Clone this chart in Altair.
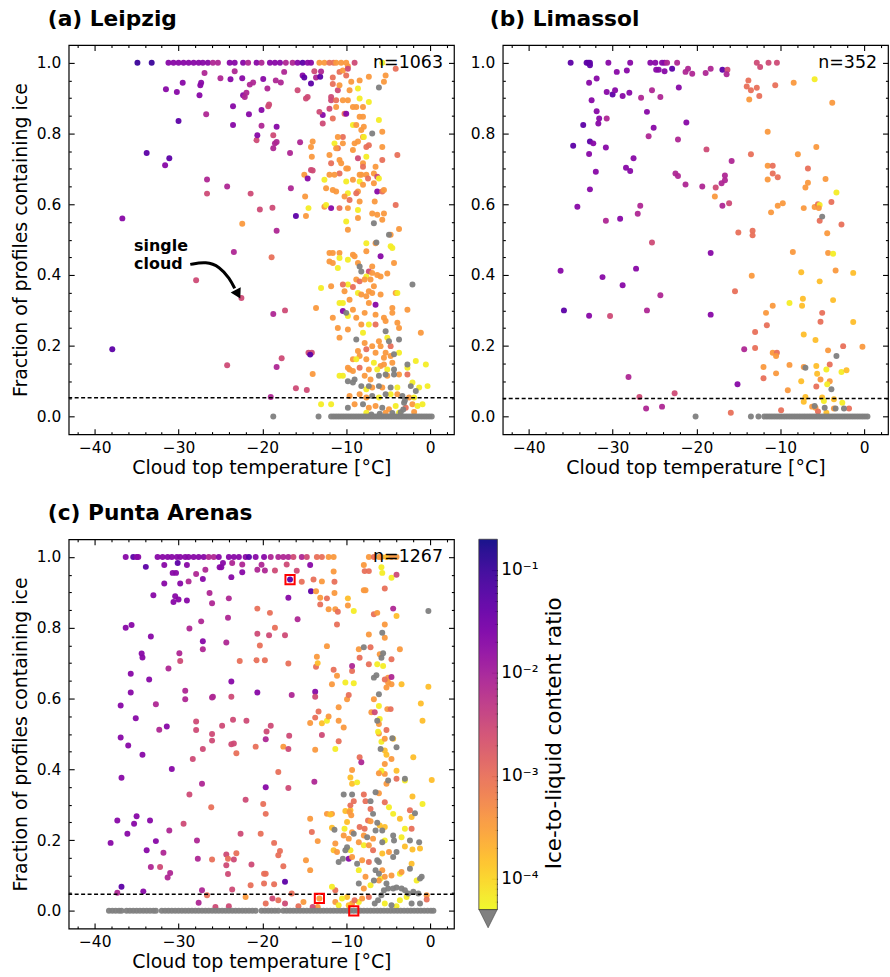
import altair as alt
import pandas as pd

FONT = "DejaVu Sans"
W, H = 387, 391
X_DOM = [-43.1, 2.85]
Y_DOM = [-0.05, 1.05]
X_MAJOR = [-40, -30, -20, -10, 0]
X_TICKS = [-42, -40, -38, -36, -34, -32, -30, -28, -26, -24, -22, -20, -18, -16, -14,
           -12, -10, -8, -6, -4, -2, 0, 2]
Y_MAJOR = [0.0, 0.2, 0.4, 0.6, 0.8, 1.0]
Y_TICKS = [0.0, 0.05, 0.1, 0.15, 0.2, 0.25, 0.3, 0.35, 0.4, 0.45, 0.5, 0.55, 0.6, 0.65,
           0.7, 0.75, 0.8, 0.85, 0.9, 0.95, 1.0]
CB_DOMAIN = [5e-5, 0.2]
CB_TICKS = [6e-5, 7e-5, 8e-5, 9e-5, 1e-4, 2e-4, 3e-4, 4e-4, 5e-4, 6e-4, 7e-4, 8e-4, 9e-4,
            1e-3, 2e-3, 3e-3, 4e-3, 5e-3, 6e-3, 7e-3, 8e-3, 9e-3, 1e-2, 2e-2, 3e-2, 4e-2,
            5e-2, 6e-2, 7e-2, 8e-2, 9e-2, 1e-1]

# colour class -> log10(ice-to-liquid content ratio); K = no ice (grey)
COLOR_CODE = {"Y": -4.2, "G": -3.8, "O": -3.45, "R": -3.0, "P": -2.55,
              "M": -2.1, "V": -1.7, "D": -1.3, "B": -1.0}

# ---------------- (a) Leipzig ----------------
leipzig_top_row = [(-34.9, "B"), (-33.2, "B"), (-31.2, "V"), (-30.6, "V"), (-30.0, "V"), (-29.4, "V"),
                   (-28.8, "V"), (-28.2, "V"), (-27.6, "V"), (-27.1, "V"), (-26.5, "V"), (-25.9, "M"),
                   (-25.3, "M"), (-23.9, "V"), (-23.3, "V"), (-22.3, "V"), (-21.7, "M"), (-20.7, "V"),
                   (-20.1, "M"), (-19.1, "V"), (-18.5, "V"), (-17.9, "V"), (-17.2, "M"), (-16.4, "M"),
                   (-15.8, "V"), (-15.2, "D"), (-14.6, "V"), (-14.2, "V"), (-13.2, "O"), (-12.6, "O"),
                   (-12.0, "R"), (-11.5, "R"), (-11.2, "O"), (-10.6, "O"), (-10.0, "O"), (-9.0, "P"),
                   (-5.7, "Y")]
leipzig_points = [
    (-31.5, 0.925, "V"), (-30.2, 0.917, "V"), (-29.5, 0.943, "V"), (-27.5, 0.908, "V"), (-27.4, 0.936, "V"),
    (-27.3, 0.943, "V"), (-26.9, 0.971, "M"), (-26.7, 0.854, "M"), (-25.0, 0.956, "M"), (-23.8, 0.953, "V"),
    (-23.5, 0.877, "V"), (-23.5, 0.824, "V"), (-23.3, 0.976, "M"), (-22.4, 0.956, "V"), (-22.3, 0.908, "V"),
    (-22.1, 0.903, "M"), (-21.9, 0.915, "M"), (-21.6, 0.854, "V"), (-21.5, 0.938, "M"), (-21.1, 0.944, "M"),
    (-20.7, 0.781, "P"), (-20.6, 0.795, "V"), (-20.1, 0.866, "V"), (-20.1, 0.822, "M"), (-19.9, 0.954, "V"),
    (-19.4, 0.927, "M"), (-19.3, 0.877, "P"), (-19.2, 0.882, "P"), (-18.7, 0.795, "P"), (-18.7, 0.758, "M"),
    (-18.5, 0.772, "M"), (-18.3, 0.819, "V"), (-18.3, 0.776, "M"), (-18.4, 0.950, "M"), (-17.8, 0.944, "M"),
    (-17.4, 0.974, "M"), (-16.7, 0.745, "M"), (-15.8, 0.922, "P"), (-15.5, 0.775, "M"), (-15.2, 0.964, "V"),
    (-15.0, 0.958, "D"), (-14.8, 0.899, "P"), (-14.6, 0.903, "P"), (-14.2, 0.941, "D"), (-13.8, 0.976, "P"),
    (-13.6, 0.958, "M"), (-13.1, 0.960, "D"), (-13.0, 0.975, "M"), (-14.0, 0.777, "O"), (-14.2, 0.762, "O"),
    (-14.1, 0.734, "O"), (-14.2, 0.697, "P"), (-14.0, 0.695, "P"), (-15.0, 0.683, "O"), (-14.6, 0.673, "V"),
    (-14.9, 0.622, "O"), (-14.5, 0.589, "Y"), (-14.8, 0.567, "O"), (-16.0, 0.567, "D"), (-16.6, 0.645, "M"),
    (-36.7, 0.56, "V"), (-37.9, 0.19, "D"), (-33.8, 0.745, "D"), (-31.6, 0.71, "V"), (-31.1, 0.73, "D"),
    (-30.0, 0.835, "D"), (-26.6, 0.67, "M"), (-26.6, 0.63, "P"), (-24.2, 0.65, "M"), (-24.2, 0.145, "P"),
    (-23.4, 0.465, "M"), (-22.4, 0.545, "O"), (-21.4, 0.63, "P"), (-20.3, 0.585, "P"), (-18.8, 0.59, "P"),
    (-18.3, 0.525, "M"), (-18.9, 0.45, "R"), (-27.9, 0.385, "P"), (-22.5, 0.335, "P"), (-18.7, 0.29, "M"),
    (-17.3, 0.30, "P"), (-18.3, 0.14, "M"), (-17.7, 0.165, "P"), (-16.0, 0.08, "P"), (-14.7, 0.075, "P"),
    (-19.0, 0.055, "M"), (-14.5, 0.18, "P"), (-14.1, 0.18, "P"), (-14.3, 0.175, "D"), (-14.0, 0.12, "O"),
    (-12.8, 0.852, "V"), (-13.2, 0.861, "P"), (-12.8, 0.828, "P"),
    (-11.6, 0.94, "R"), (-11.6, 0.958, "R"), (-11.0, 0.922, "P"), (-10.8, 0.936, "O"), (-10.8, 0.974, "R"),
    (-10.4, 0.978, "O"), (-9.8, 0.99, "O"), (-9.8, 0.983, "P"), (-10.0, 0.964, "R"), (-11.8, 0.903, "P"),
    (-11.8, 0.894, "P"), (-11.2, 0.894, "R"), (-11.2, 0.875, "O"), (-10.4, 0.894, "O"), (-9.8, 0.894, "O"),
    (-9.6, 0.922, "O"), (-9.4, 0.946, "O"), (-8.6, 0.927, "Y"), (-8.4, 0.950, "O"), (-8.4, 0.899, "Y"),
    (-9.2, 0.875, "O"), (-8.8, 0.875, "O"), (-8.0, 0.875, "O"), (-7.3, 0.889, "Y"), (-7.3, 0.96, "O"),
    (-8.4, 0.847, "O"), (-8.0, 0.847, "O"), (-9.2, 0.824, "Y"), (-8.8, 0.824, "O"), (-7.9, 0.819, "O"),
    (-8.2, 0.81, "O"), (-10.2, 0.856, "R"), (-10.0, 0.856, "V"), (-10.4, 0.79, "R"), (-12.0, 0.87, "P"),
    (-11.6, 0.842, "R"), (-11.0, 0.79, "O"), (-11.0, 0.758, "R"), (-10.4, 0.772, "O"), (-11.4, 0.772, "Y"),
    (-11.2, 0.758, "O"), (-12.0, 0.739, "O"), (-11.8, 0.716, "R"), (-10.6, 0.716, "O"), (-10.8, 0.725, "O"),
    (-9.8, 0.701, "O"), (-10.0, 0.701, "O"), (-10.8, 0.687, "R"), (-11.4, 0.683, "O"), (-12.0, 0.683, "O"),
    (-10.0, 0.664, "Y"), (-9.8, 0.631, "Y"), (-10.2, 0.622, "O"), (-9.6, 0.612, "R"), (-11.2, 0.636, "O"),
    (-11.6, 0.64, "O"), (-12.6, 0.669, "Y"), (-12.4, 0.645, "O"), (-12.6, 0.593, "O"), (-12.4, 0.598, "Y"),
    (-11.8, 0.589, "V"), (-10.8, 0.589, "R"), (-9.8, 0.589, "O"), (-10.0, 0.551, "Y"), (-9.8, 0.528, "O"),
    (-8.6, 0.561, "O"), (-8.6, 0.584, "Y"), (-8.4, 0.608, "O"), (-8.6, 0.636, "O"), (-8.4, 0.664, "Y"),
    (-8.4, 0.683, "O"), (-8.2, 0.683, "O"), (-8.0, 0.655, "O"), (-7.6, 0.683, "O"), (-7.4, 0.673, "R"),
    (-8.0, 0.716, "O"), (-8.0, 0.706, "R"), (-9.2, 0.669, "O"), (-8.8, 0.631, "R"), (-7.6, 0.734, "Y"),
    (-8.6, 0.73, "P"), (-9.2, 0.753, "O"), (-9.0, 0.772, "O"), (-7.6, 0.762, "R"), (-7.3, 0.767, "R"),
    (-8.6, 0.777, "O"), (-8.0, 0.79, "O"), (-7.9, 0.79, "Y"), (-6.9, 0.8, "K"), (-6.1, 0.838, "Y"),
    (-5.7, 0.805, "O"), (-5.7, 0.762, "O"), (-5.7, 0.725, "R"), (-6.5, 0.706, "O"), (-6.7, 0.687, "O"),
    (-6.3, 0.678, "P"), (-6.1, 0.673, "Y"), (-6.7, 0.659, "O"), (-6.3, 0.636, "V"), (-5.7, 0.636, "R"),
    (-5.5, 0.64, "O"), (-6.6, 0.608, "O"), (-6.9, 0.574, "O"), (-6.3, 0.57, "O"), (-5.5, 0.574, "O"),
    (-5.7, 0.556, "O"), (-6.7, 0.546, "K"), (-4.1, 0.598, "R"), (-3.7, 0.53, "O"), (-4.9, 0.514, "K"),
    (-4.7, 0.514, "O"), (-6.5, 0.49, "O"), (-6.4, 0.492, "K"), (-7.6, 0.49, "Y"), (-7.6, 0.467, "O"),
    (-5.9, 0.453, "V"), (-4.7, 0.481, "Y"), (-4.5, 0.476, "Y"), (-4.3, 0.434, "O"), (-9.2, 0.457, "O"),
    (-9.0, 0.453, "O"), (-10.8, 0.462, "O"), (-12.0, 0.462, "O"), (-11.6, 0.462, "O"), (-10.8, 0.448, "Y"),
    (-12.0, 0.438, "O"), (-11.6, 0.434, "O"), (-11.0, 0.42, "Y"), (-9.8, 0.443, "Y"), (-8.4, 0.424, "K"),
    (-8.2, 0.41, "K"), (-8.6, 0.434, "O"), (-6.9, 0.424, "O"), (-7.3, 0.41, "P"), (-7.6, 0.396, "Y"),
    (-7.1, 0.387, "O"), (-6.9, 0.406, "O"), (-5.9, 0.396, "O"), (-6.3, 0.4, "O"), (-5.1, 0.404, "O"),
    (-8.8, 0.387, "O"), (-8.4, 0.382, "R"), (-7.8, 0.387, "O"), (-9.8, 0.373, "Y"), (-9.2, 0.366, "R"),
    (-10.4, 0.373, "R"), (-13.0, 0.363, "Y"), (-11.8, 0.368, "O"), (-10.2, 0.354, "O"), (-8.6, 0.349, "Y"),
    (-8.2, 0.345, "O"), (-7.3, 0.354, "O"), (-6.9, 0.349, "O"), (-7.6, 0.34, "O"), (-6.7, 0.368, "O"),
    (-5.9, 0.345, "O"), (-4.1, 0.349, "O"), (-3.9, 0.349, "Y"), (-2.1, 0.373, "K"), (-10.8, 0.321, "Y"),
    (-10.4, 0.321, "Y"), (-9.6, 0.33, "O"), (-7.3, 0.321, "O"), (-6.5, 0.316, "V"), (-9.2, 0.302, "O"),
    (-13.6, 0.307, "O"), (-10.0, 0.293, "K"), (-10.4, 0.298, "V"), (-7.8, 0.293, "O"), (-6.5, 0.288, "O"),
    (-4.5, 0.307, "O"), (-4.5, 0.293, "O"), (-2.7, 0.302, "O"), (-11.6, 0.279, "O"), (-9.8, 0.284, "Y"),
    (-8.8, 0.279, "O"), (-8.2, 0.26, "O"), (-7.3, 0.26, "Y"), (-6.5, 0.26, "R"), (-5.5, 0.279, "O"),
    (-5.3, 0.27, "O"), (-3.9, 0.265, "O"), (-11.0, 0.25, "O"), (-9.8, 0.246, "O"), (-8.0, 0.237, "Y"),
    (-8.8, 0.218, "K"), (-5.3, 0.241, "K"), (-3.7, 0.25, "O"), (-1.1, 0.237, "O"), (-10.8, 0.223, "O"),
    (-7.8, 0.208, "O"), (-6.1, 0.213, "O"), (-5.1, 0.223, "Y"), (-4.9, 0.213, "K"), (-4.7, 0.199, "R"),
    (-3.7, 0.218, "K"), (-6.9, 0.199, "O"), (-5.9, 0.199, "O"), (-7.6, 0.19, "R"), (-8.6, 0.185, "O"),
    (-8.4, 0.171, "O"), (-6.5, 0.18, "O"), (-5.3, 0.18, "O"), (-3.7, 0.18, "Y"), (-4.3, 0.176, "K"),
    (-4.7, 0.171, "O"), (-9.2, 0.162, "O"), (-8.8, 0.162, "Y"), (-7.6, 0.162, "O"), (-5.5, 0.166, "O"),
    (-4.5, 0.152, "O"), (-5.5, 0.147, "O"), (-6.7, 0.152, "Y"), (-5.9, 0.143, "O"), (-1.7, 0.157, "Y"),
    (-0.5, 0.147, "Y"), (-2.7, 0.147, "K"), (-2.7, 0.138, "Y"), (-9.8, 0.138, "O"), (-9.6, 0.133, "O"),
    (-10.4, 0.115, "Y"), (-9.2, 0.129, "O"), (-8.4, 0.138, "R"), (-7.3, 0.133, "O"), (-6.3, 0.133, "Y"),
    (-5.1, 0.133, "Y"), (-4.3, 0.133, "K"), (-10.8, 0.115, "Y"), (-9.8, 0.1, "K"), (-9.0, 0.105, "K"),
    (-9.2, 0.096, "K"), (-7.8, 0.115, "O"), (-7.1, 0.105, "O"), (-6.1, 0.115, "K"), (-5.3, 0.119, "K"),
    (-5.1, 0.115, "O"), (-4.3, 0.119, "K"), (-3.7, 0.119, "O"), (-2.7, 0.119, "R"), (-2.1, 0.096, "Y"),
    (-8.2, 0.086, "K"), (-7.6, 0.077, "Y"), (-7.3, 0.086, "K"), (-6.9, 0.082, "O"), (-6.1, 0.086, "K"),
    (-5.7, 0.082, "O"), (-4.7, 0.082, "K"), (-3.9, 0.082, "Y"), (-2.3, 0.086, "K"), (-1.3, 0.082, "Y"),
    (-0.3, 0.086, "Y"), (-1.7, 0.072, "K"), (-4.7, 0.063, "Y"), (-3.9, 0.063, "O"), (-3.3, 0.058, "K"),
    (-9.6, 0.058, "O"), (-8.4, 0.063, "O"), (-7.6, 0.054, "O"), (-6.9, 0.058, "K"), (-6.1, 0.054, "Y"),
    (-5.3, 0.063, "K"), (-2.5, 0.054, "O"), (-1.9, 0.054, "Y"), (-13.0, 0.035, "Y"), (-11.8, 0.035, "Y"),
    (-9.8, 0.025, "K"), (-9.0, 0.035, "O"), (-8.0, 0.035, "K"), (-7.3, 0.025, "O"), (-6.5, 0.03, "O"),
    (-5.7, 0.025, "K"), (-4.9, 0.021, "O"), (-4.1, 0.03, "Y"), (-3.1, 0.039, "K"), (-2.9, 0.025, "R"),
    (-2.1, 0.035, "O"), (-1.5, 0.03, "Y"), (-0.9, 0.035, "Y"), (-7.6, 0.011, "Y"), (-5.3, 0.011, "O"),
    (-3.7, 0.011, "Y"), (-1.9, 0.013, "O"), (-3.2, 0.02, "K"), (-3.0, 0.045, "K"), (-3.5, 0.012, "K"),
    (-4.5, 0.01, "K"), (-6.0, 0.008, "K"), (-7.0, 0.006, "K"),
    (-5.3, 0.964, "O"), (-5.5, 0.946, "O"), (-4.1, 0.983, "R"), (-6.1, 0.93, "K"), (-3.9, 0.739, "R"),
]
leipzig_gray_row = [-18.7, -13.3, -11.8, -11.5, -11.2, -10.9, -10.6, -10.3, -10.0, -9.7, -9.4, -9.1,
                    -8.8, -8.5, -8.2, -7.9, -7.6, -7.3, -7.0, -6.7, -6.4, -6.1, -5.8, -5.5, -5.2, -4.9,
                    -4.6, -4.3, -4.0, -3.7, -3.4, -3.1, -2.8, -2.5, -2.2, -1.9, -1.6, -1.3, -1.0, -0.7,
                    -0.4, -0.1, 0.2]

# ---------------- (b) Limassol ----------------
limassol_top_row = [(-35.0, "D"), (-33.1, "D"), (-32.9, "D"), (-32.7, "D"), (-30.5, "V"), (-27.9, "V"),
                    (-25.5, "V"), (-24.9, "V"), (-24.1, "V"), (-23.8, "V"), (-23.5, "M"), (-22.3, "M"),
                    (-12.8, "P"), (-11.4, "P"), (-10.4, "P")]
limassol_points = [
    (-32.7, 0.993, "D"), (-29.5, 0.974, "V"), (-28.3, 0.978, "V"), (-24.8, 0.98, "V"), (-24.5, 0.98, "V"),
    (-23.8, 0.976, "V"), (-22.9, 0.983, "D"), (-21.3, 0.974, "M"), (-21.0, 0.983, "M"), (-20.5, 0.969, "M"),
    (-18.9, 0.971, "M"), (-18.3, 0.983, "M"), (-16.9, 0.98, "D"), (-16.3, 0.98, "P"), (-16.4, 0.967, "M"),
    (-12.4, 0.988, "P"), (-32.8, 0.943, "V"), (-31.9, 0.955, "V"), (-30.7, 0.917, "V"), (-30.0, 0.91, "D"),
    (-29.7, 0.922, "V"), (-28.8, 0.906, "V"), (-28.0, 0.915, "V"), (-26.6, 0.901, "M"), (-25.3, 0.922, "M"),
    (-24.3, 0.903, "M"), (-22.1, 0.93, "V"), (-32.5, 0.894, "V"), (-31.9, 0.863, "V"), (-31.6, 0.842, "V"),
    (-31.7, 0.828, "V"), (-30.7, 0.842, "M"), (-25.9, 0.861, "V"), (-33.5, 0.824, "D"), (-25.1, 0.816, "V"),
    (-21.2, 0.831, "V"), (-25.7, 0.792, "M"), (-22.2, 0.783, "M"), (-34.7, 0.765, "D"), (-32.7, 0.777, "D"),
    (-32.3, 0.772, "V"), (-32.8, 0.742, "V"), (-30.8, 0.76, "V"), (-27.5, 0.73, "V"), (-28.4, 0.703, "V"),
    (-27.9, 0.694, "V"), (-32.0, 0.692, "V"), (-22.5, 0.687, "M"), (-22.2, 0.68, "M"), (-21.3, 0.656, "M"),
    (-32.7, 0.642, "V"), (-34.2, 0.593, "V"), (-30.8, 0.553, "M"), (-29.1, 0.559, "V"), (-26.7, 0.596, "M"),
    (-27.0, 0.573, "M"), (-25.3, 0.492, "P"), (-18.8, 0.755, "P"), (-19.3, 0.65, "M"), (-17.7, 0.647, "P"),
    (-17.0, 0.659, "M"), (-16.6, 0.668, "M"), (-16.6, 0.681, "M"), (-15.8, 0.722, "M"), (-17.8, 0.622, "O"),
    (-16.9, 0.596, "M"), (-16.1, 0.603, "P"), (-18.3, 0.462, "V"), (-36.2, 0.412, "V"), (-31.2, 0.394, "V"),
    (-27.2, 0.418, "V"), (-28.8, 0.371, "V"), (-24.3, 0.343, "M"), (-35.8, 0.3, "D"), (-32.8, 0.285, "V"),
    (-30.3, 0.284, "P"), (-25.9, 0.3, "M"), (-18.3, 0.288, "V"), (-28.1, 0.112, "M"), (-26.8, 0.055, "P"),
    (-26.0, 0.023, "M"), (-24.1, 0.028, "M"), (-22.6, 0.066, "P"), (-15.1, 0.091, "V"), (-15.9, 0.011, "R"),
    (-14.3, 0.19, "M"), (-15.4, 0.354, "R"), (-15.0, 0.52, "R"), (-13.8, 0.95, "R"), (-14.0, 0.933, "R"),
    (-13.5, 0.922, "R"), (-12.8, 0.929, "R"), (-12.5, 0.906, "R"), (-13.7, 0.896, "O"), (-13.5, 0.741, "R"),
    (-13.3, 0.525, "R"), (-13.3, 0.512, "R"), (-13.4, 0.398, "O"), (-13.0, 0.239, "R"), (-13.0, 0.194, "R"),
    (-11.5, 0.805, "O"), (-11.5, 0.709, "O"), (-10.9, 0.709, "R"), (-10.9, 0.687, "R"), (-11.5, 0.67, "O"),
    (-10.3, 0.676, "R"), (-10.6, 0.936, "R"), (-11.1, 0.577, "O"), (-10.3, 0.596, "O"), (-9.7, 0.603, "O"),
    (-11.7, 0.293, "O"), (-11.6, 0.258, "R"), (-10.9, 0.313, "O"), (-12.0, 0.14, "O"), (-12.0, 0.108, "R"),
    (-10.9, 0.18, "O"), (-10.4, 0.18, "R"), (-10.5, 0.171, "O"), (-10.5, 0.122, "O"), (-9.9, 0.018, "R"),
    (-9.1, 0.074, "O"), (-8.9, 0.146, "O"), (-8.9, 0.321, "Y"), (-8.4, 0.943, "O"), (-8.5, 0.465, "O"),
    (-7.9, 0.741, "O"), (-7.5, 0.408, "G"), (-7.3, 0.333, "G"), (-7.4, 0.313, "G"), (-7.2, 0.232, "G"),
    (-7.5, 0.1, "G"), (-7.2, 0.14, "O"), (-7.0, 0.138, "K"), (-7.2, 0.589, "O"), (-7.0, 0.647, "O"),
    (-6.7, 0.701, "R"), (-6.7, 0.661, "O"), (-5.9, 0.953, "Y"), (-5.7, 0.762, "O"), (-5.9, 0.592, "O"),
    (-5.5, 0.6, "R"), (-5.3, 0.598, "Y"), (-5.3, 0.553, "R"), (-5.0, 0.565, "K"), (-5.4, 0.589, "O"),
    (-5.3, 0.382, "G"), (-5.0, 0.293, "R"), (-5.2, 0.268, "R"), (-5.8, 0.216, "G"), (-5.7, 0.143, "G"),
    (-5.6, 0.121, "G"), (-5.2, 0.105, "O"), (-5.7, 0.085, "R"), (-4.6, 0.671, "O"), (-4.4, 0.518, "O"),
    (-4.3, 0.462, "O"), (-3.7, 0.46, "Y"), (-3.4, 0.413, "O"), (-3.7, 0.329, "G"), (-4.3, 0.187, "O"),
    (-4.1, 0.147, "R"), (-4.5, 0.133, "Y"), (-4.1, 0.1, "O"), (-4.4, 0.091, "Y"), (-3.3, 0.171, "K"),
    (-3.9, 0.077, "K"), (-3.8, 0.887, "O"), (-3.9, 0.606, "R"), (-3.3, 0.633, "Y"), (-2.7, 0.543, "R"),
    (-2.5, 0.199, "R"), (-2.7, 0.126, "Y"), (-2.1, 0.131, "G"), (-1.3, 0.406, "G"), (-1.3, 0.267, "G"),
    (-0.2, 0.197, "O"), (-5.0, 0.054, "G"), (-7.2, 0.042, "G"), (-7.0, 0.055, "G"), (-4.8, 0.044, "Y"),
    (-3.6, 0.049, "G"), (-2.6, 0.039, "Y"), (-6.2, 0.028, "O"), (-5.9, 0.03, "K"), (-5.8, 0.025, "O"),
    (-5.5, 0.014, "R"), (-4.7, 0.025, "K"), (-4.5, 0.011, "G"), (-3.6, 0.023, "O"), (-3.4, 0.023, "K"),
    (-2.4, 0.023, "K"), (-1.8, 0.023, "R"),
]
limassol_gray_row = [-20.1, -13.5, -12.6, -11.9, -11.6, -11.3, -11.0, -10.7, -10.4, -10.1, -9.8, -9.5,
                     -9.2, -8.9, -8.6, -8.3, -8.0, -7.7, -7.4, -7.1, -6.8, -6.5, -6.2, -5.9, -5.6, -5.3,
                     -5.0, -4.7, -4.4, -4.1, -3.8, -3.5, -3.2, -2.9, -2.6, -2.3, -2.0, -1.7, -1.4, -1.1,
                     -0.8, -0.5, -0.2, 0.1, 0.4]

# ---------------- (c) Punta Arenas ----------------
punta_top_row = [(-36.3, "V"), (-35.4, "D"), (-35.0, "V"), (-34.8, "V"), (-32.5, "V"), (-31.9, "V"),
                 (-31.3, "V"), (-30.8, "V"), (-30.2, "V"), (-29.8, "V"), (-29.2, "V"), (-28.8, "V"),
                 (-28.2, "V"), (-27.6, "V"), (-27.0, "V"), (-26.4, "M"), (-25.8, "M"), (-25.2, "V"),
                 (-24.0, "V"), (-23.4, "V"), (-22.8, "V"), (-22.0, "V"), (-21.6, "D"), (-20.8, "V"),
                 (-19.8, "V"), (-19.0, "M"), (-18.1, "M"), (-17.5, "M"), (-16.9, "M"), (-16.3, "P"),
                 (-15.3, "M"), (-14.7, "P"), (-13.5, "R"), (-12.9, "R"), (-12.1, "O"), (-11.5, "O"),
                 (-7.3, "O"), (-6.7, "R"), (-6.1, "O"), (-5.8, "O"), (-5.2, "G"), (-4.6, "O"), (-4.0, "O")]
punta_points = [
    (-33.9, 0.972, "D"), (-31.7, 0.977, "V"), (-30.1, 0.983, "D"), (-30.3, 0.955, "V"), (-30.7, 0.955, "V"),
    (-29.0, 0.977, "V"), (-27.9, 0.952, "M"), (-27.1, 0.938, "V"), (-26.8, 0.964, "M"), (-31.7, 0.925, "V"),
    (-29.8, 0.925, "V"), (-28.8, 0.931, "M"), (-33.0, 0.892, "V"), (-30.4, 0.889, "V"), (-30.6, 0.873, "V"),
    (-30.0, 0.88, "V"), (-29.0, 0.877, "V"), (-26.3, 0.898, "M"), (-26.0, 0.869, "M"), (-25.1, 0.971, "V"),
    (-24.9, 0.971, "V"), (-24.7, 0.983, "V"), (-23.6, 0.983, "M"), (-23.7, 0.943, "V"), (-22.4, 0.957, "V"),
    (-24.0, 0.883, "M"), (-24.1, 0.828, "M"), (-22.4, 0.979, "M"), (-20.6, 0.964, "M"), (-20.1, 0.978, "M"),
    (-19.7, 0.962, "M"), (-18.5, 0.962, "P"), (-17.1, 0.979, "P"), (-16.7, 0.936, "D"), (-16.9, 0.885, "V"),
    (-15.9, 0.961, "P"), (-15.3, 0.93, "R"), (-14.2, 0.903, "D"), (-14.3, 0.977, "V"), (-13.9, 0.936, "R"),
    (-13.6, 0.903, "O"), (-13.1, 0.885, "O"), (-12.9, 0.931, "O"), (-13.1, 0.866, "R"), (-12.3, 0.883, "R"),
    (-12.1, 0.852, "O"), (-11.4, 0.898, "O"), (-11.5, 0.959, "O"), (-11.4, 0.93, "R"), (-11.3, 0.852, "O"),
    (-11.0, 0.845, "R"), (-11.1, 0.809, "R"), (-9.8, 0.883, "G"), (-9.8, 0.863, "O"), (-9.1, 0.847, "Y"),
    (-7.9, 0.977, "O"), (-7.8, 0.96, "R"), (-7.3, 0.96, "R"), (-7.9, 0.906, "O"), (-7.7, 0.906, "O"),
    (-6.7, 0.838, "R"), (-6.3, 0.842, "O"), (-5.8, 0.971, "Y"), (-5.7, 0.955, "Y"), (-4.6, 0.941, "Y"),
    (-4.0, 0.95, "P"), (-5.4, 0.911, "R"), (-4.4, 0.854, "M"), (-4.0, 0.833, "G"), (-0.2, 0.847, "K"),
    (-36.3, 0.8, "V"), (-35.6, 0.808, "V"), (-33.3, 0.775, "V"), (-28.7, 0.798, "M"), (-27.3, 0.818, "M"),
    (-27.1, 0.762, "V"), (-27.1, 0.739, "M"), (-24.3, 0.758, "M"), (-20.6, 0.783, "P"), (-20.3, 0.75, "R"),
    (-19.1, 0.842, "R"), (-19.2, 0.779, "P"), (-18.5, 0.8, "R"), (-17.3, 0.779, "P"), (-20.6, 0.854, "R"),
    (-16.9, 0.699, "R"), (-16.5, 0.61, "M"), (-15.8, 0.824, "M"), (-20.7, 0.708, "R"), (-19.7, 0.708, "R"),
    (-22.7, 0.706, "R"), (-29.8, 0.706, "P"), (-29.9, 0.728, "M"), (-31.2, 0.685, "M"), (-34.4, 0.727, "V"),
    (-34.3, 0.716, "V"), (-35.7, 0.67, "V"), (-33.5, 0.654, "V"), (-35.7, 0.617, "V"), (-29.2, 0.622, "M"),
    (-29.2, 0.598, "M"), (-25.9, 0.605, "M"), (-26.0, 0.603, "M"), (-23.7, 0.648, "V"), (-23.7, 0.605, "P"),
    (-20.6, 0.617, "V"), (-13.7, 0.619, "V"), (-13.7, 0.605, "P"), (-13.7, 0.546, "R"), (-13.6, 0.69, "R"),
    (-13.5, 0.718, "O"), (-13.4, 0.70, "G"), (-36.9, 0.58, "V"), (-36.9, 0.49, "V"), (-36.0, 0.467, "V"),
    (-35.1, 0.544, "V"), (-34.3, 0.441, "V"), (-32.7, 0.584, "M"), (-32.3, 0.512, "M"), (-31.4, 0.521, "V"),
    (-30.8, 0.401, "V"), (-27.9, 0.535, "P"), (-27.9, 0.511, "P"), (-28.3, 0.429, "P"), (-27.1, 0.457, "P"),
    (-26.0, 0.5, "P"), (-26.0, 0.481, "P"), (-24.8, 0.523, "P"), (-23.5, 0.54, "P"), (-23.7, 0.471, "P"),
    (-23.4, 0.473, "P"), (-23.1, 0.445, "R"), (-21.9, 0.537, "P"), (-20.8, 0.464, "R"), (-19.6, 0.485, "M"),
    (-19.5, 0.507, "P"), (-19.0, 0.523, "P"), (-17.5, 0.464, "O"), (-16.9, 0.457, "P"), (-16.8, 0.495, "P"),
    (-18.1, 0.392, "R"), (-16.9, 0.347, "P"), (-19.6, 0.349, "V"), (-13.8, 0.365, "M"), (-14.3, 0.531, "O"),
    (-13.7, 0.455, "O"), (-13.3, 0.563, "R"), (-12.9, 0.53, "G"), (-12.3, 0.537, "Y"), (-12.1, 0.549, "O"),
    (-12.9, 0.497, "P"), (-12.3, 0.748, "O"), (-11.7, 0.64, "O"), (-11.5, 0.681, "R"), (-11.1, 0.664, "O"),
    (-10.9, 0.575, "O"), (-10.9, 0.537, "O"), (-10.3, 0.518, "O"), (-11.3, 0.457, "Y"), (-10.9, 0.479, "R"),
    (-10.1, 0.645, "Y"), (-9.9, 0.598, "O"), (-9.7, 0.61, "R"), (-9.1, 0.643, "Y"), (-9.3, 0.678, "R"),
    (-9.3, 0.692, "M"), (-8.4, 0.715, "R"), (-8.5, 0.739, "O"), (-7.9, 0.745, "K"), (-7.1, 0.745, "R"),
    (-7.3, 0.781, "O"), (-7.3, 0.697, "R"), (-6.3, 0.697, "Y"), (-6.7, 0.659, "K"), (-6.4, 0.666, "K"),
    (-6.1, 0.612, "K"), (-6.7, 0.598, "O"), (-7.0, 0.561, "O"), (-6.6, 0.561, "P"), (-6.1, 0.579, "Y"),
    (-6.3, 0.537, "K"), (-6.0, 0.542, "Y"), (-6.1, 0.528, "O"), (-6.1, 0.501, "O"), (-5.8, 0.478, "Y"),
    (-5.9, 0.457, "K"), (-6.2, 0.506, "Y"), (-5.8, 0.715, "K"), (-6.0, 0.725, "O"), (-5.6, 0.692, "Y"),
    (-5.6, 0.728, "K"), (-5.7, 0.786, "K"), (-5.4, 0.809, "O"), (-5.4, 0.772, "O"), (-5.0, 0.659, "O"),
    (-5.0, 0.645, "O"), (-5.2, 0.631, "O"), (-5.4, 0.654, "R"), (-5.1, 0.57, "O"), (-4.7, 0.57, "R"),
    (-4.6, 0.711, "R"), (-4.6, 0.661, "M"), (-4.6, 0.64, "O"), (-5.2, 0.511, "R"), (-5.4, 0.486, "O"),
    (-4.4, 0.486, "G"), (-5.4, 0.453, "G"), (-5.2, 0.441, "G"), (-4.6, 0.429, "O"), (-5.4, 0.415, "O"),
    (-4.0, 0.462, "K"), (-4.5, 0.488, "K"), (-3.4, 0.64, "G"), (-3.6, 0.739, "O"), (-5.2, 0.359, "O"),
    (-5.0, 0.368, "K"), (-5.4, 0.387, "O"), (-4.0, 0.396, "G"), (-4.0, 0.373, "R"), (-5.8, 0.396, "Y"),
    (-6.1, 0.389, "O"), (-3.0, 0.373, "K"), (-3.0, 0.368, "Y"), (-2.0, 0.434, "G"), (-0.9, 0.537, "G"),
    (-1.1, 0.586, "G"), (-0.2, 0.633, "G"), (0.2, 0.37, "G"), (-0.9, 0.302, "Y"), (-2.1, 0.323, "G"),
    (-2.4, 0.284, "R"), (-1.8, 0.276, "K"), (-2.2, 0.265, "G"), (-2.2, 0.232, "R"), (-3.0, 0.232, "Y"),
    (-3.6, 0.26, "G"), (-4.4, 0.274, "Y"), (-4.9, 0.293, "Y"), (-5.4, 0.307, "R"), (-6.1, 0.332, "O"),
    (-6.5, 0.335, "K"), (-7.1, 0.31, "K"), (-7.1, 0.288, "R"), (-6.8, 0.274, "K"), (-7.4, 0.255, "R"),
    (-7.1, 0.253, "O"), (-6.3, 0.249, "K"), (-6.0, 0.241, "G"), (-5.4, 0.237, "G"), (-5.7, 0.227, "K"),
    (-6.5, 0.227, "K"), (-7.5, 0.208, "K"), (-6.8, 0.204, "O"), (-5.7, 0.194, "K"), (-5.4, 0.199, "Y"),
    (-4.4, 0.213, "K"), (-4.3, 0.199, "K"), (-3.4, 0.208, "Y"), (-2.4, 0.199, "K"), (-1.3, 0.194, "K"),
    (-1.2, 0.176, "G"), (-2.1, 0.173, "G"), (-3.0, 0.182, "G"), (-4.0, 0.166, "K"), (-4.9, 0.166, "O"),
    (-5.7, 0.162, "G"), (-6.8, 0.171, "R"), (-7.9, 0.185, "Y"), (-7.3, 0.185, "O"), (-7.9, 0.213, "O"),
    (-8.5, 0.194, "O"), (-9.1, 0.218, "K"), (-9.3, 0.222, "O"), (-9.7, 0.204, "O"), (-10.3, 0.213, "O"),
    (-10.2, 0.232, "Y"), (-9.9, 0.251, "G"), (-9.4, 0.27, "O"), (-9.5, 0.284, "G"), (-9.5, 0.298, "R"),
    (-9.1, 0.31, "R"), (-9.3, 0.329, "K"), (-9.3, 0.359, "G"), (-9.5, 0.377, "G"), (-9.3, 0.398, "O"),
    (-8.7, 0.363, "Y"), (-10.3, 0.329, "K"), (-10.1, 0.282, "G"), (-9.6, 0.279, "O"), (-8.4, 0.237, "R"),
    (-7.8, 0.232, "R"), (-7.9, 0.329, "R"), (-7.7, 0.31, "R"), (-8.4, 0.434, "R"), (-8.2, 0.42, "M"),
    (-11.7, 0.274, "O"), (-12.3, 0.274, "O"), (-11.9, 0.272, "G"), (-11.7, 0.235, "G"), (-11.4, 0.229, "K"),
    (-11.3, 0.19, "O"), (-11.5, 0.171, "G"), (-11.1, 0.166, "O"), (-10.9, 0.138, "K"), (-10.4, 0.147, "K"),
    (-10.1, 0.171, "K"), (-9.9, 0.18, "K"), (-9.7, 0.147, "V"), (-9.5, 0.171, "Y"), (-9.3, 0.152, "O"),
    (-8.7, 0.133, "K"), (-8.5, 0.115, "Y"), (-8.1, 0.143, "O"), (-7.3, 0.138, "R"), (-6.3, 0.143, "K"),
    (-6.1, 0.138, "K"), (-6.5, 0.115, "K"), (-6.1, 0.105, "K"), (-5.7, 0.115, "O"), (-5.9, 0.091, "Y"),
    (-5.4, 0.096, "O"), (-5.2, 0.077, "K"), (-4.6, 0.1, "O"), (-4.4, 0.152, "K"), (-3.6, 0.105, "Y"),
    (-3.4, 0.11, "O"), (-2.4, 0.119, "K"), (-2.2, 0.133, "G"), (-1.0, 0.096, "K"), (-1.6, 0.086, "Y"),
    (-1.2, 0.091, "K"), (-7.7, 0.096, "O"), (-8.5, 0.077, "K"), (-7.9, 0.063, "O"), (-7.1, 0.072, "Y"),
    (-6.7, 0.086, "K"), (-6.1, 0.086, "O"), (-5.5, 0.058, "K"), (-5.0, 0.063, "K"), (-4.4, 0.063, "K"),
    (-4.0, 0.066, "K"), (-3.4, 0.063, "K"), (-3.0, 0.058, "K"), (-2.6, 0.049, "K"), (-2.0, 0.054, "K"),
    (-1.4, 0.049, "K"), (-3.6, 0.03, "Y"), (-2.8, 0.039, "Y"), (-2.2, 0.021, "K"), (-1.2, 0.021, "K"),
    (-0.4, 0.044, "O"), (-0.4, 0.032, "R"), (-5.8, 0.044, "K"), (-6.2, 0.03, "K"), (-5.4, 0.021, "Y"),
    (-6.6, 0.021, "K"), (-4.6, 0.016, "K"), (-4.0, 0.013, "Y"), (-8.5, 0.025, "Y"), (-8.1, 0.035, "O"),
    (-7.3, 0.039, "R"), (-9.3, 0.021, "O"), (-9.7, 0.016, "G"), (-9.9, 0.039, "G"), (-10.5, 0.035, "Y"),
    (-11.3, 0.025, "O"), (-11.3, 0.058, "R"), (-11.7, 0.068, "Y"), (-10.9, 0.016, "Y"), (-9.0, 0.03, "R"),
    (-13.2, 0.035, "O"), (-13.4, 0.011, "O"), (-14.3, 0.115, "O"), (-14.8, 0.143, "O"), (-14.1, 0.223, "R"),
    (-14.3, 0.26, "O"), (-13.4, 0.197, "O"), (-14.0, 0.011, "P"), (-15.1, 0.025, "O"), (-15.7, 0.013, "R"),
    (-16.5, 0.049, "R"), (-17.3, 0.021, "P"), (-18.1, 0.03, "R"), (-18.8, 0.035, "P"), (-19.6, 0.021, "R"),
    (-18.6, 0.075, "R"), (-17.9, 0.169, "R"), (-18.1, 0.157, "R"), (-17.5, 0.126, "R"), (-18.6, 0.192, "R"),
    (-17.3, 0.082, "D"), (-19.8, 0.105, "R"), (-19.6, 0.105, "R"), (-19.8, 0.077, "R"), (-19.9, 0.302, "R"),
    (-19.6, 0.274, "R"), (-20.2, 0.218, "R"), (-21.4, 0.072, "R"), (-21.3, 0.131, "P"), (-22.0, 0.039, "O"),
    (-22.6, 0.218, "P"), (-22.0, 0.314, "P"), (-23.1, 0.163, "R"), (-23.4, 0.145, "P"), (-24.3, 0.159, "P"),
    (-24.1, 0.147, "R"), (-24.3, 0.129, "P"), (-24.1, 0.104, "P"), (-23.6, 0.06, "P"), (-24.0, 0.013, "P"),
    (-25.6, 0.011, "P"), (-26.0, 0.145, "R"), (-26.1, 0.293, "R"), (-27.8, 0.199, "M"), (-27.7, 0.147, "M"),
    (-27.2, 0.359, "M"), (-27.2, 0.058, "M"), (-26.6, 0.044, "R"), (-27.6, 0.023, "M"), (-28.7, 0.329, "P"),
    (-29.4, 0.246, "P"), (-31.1, 0.227, "M"), (-31.0, 0.107, "M"), (-31.3, 0.094, "M"), (-31.8, 0.164, "M"),
    (-32.2, 0.124, "P"), (-32.7, 0.197, "V"), (-33.4, 0.255, "V"), (-33.3, 0.124, "M"), (-33.8, 0.171, "V"),
    (-34.2, 0.055, "V"), (-35.0, 0.267, "V"), (-35.3, 0.246, "V"), (-36.1, 0.218, "V"), (-37.3, 0.255, "V"),
    (-38.1, 0.192, "V"), (-37.3, 0.051, "M"), (-36.8, 0.068, "D"), (-36.8, 0.376, "V"),
]
punta_gray_row = [-38.3, -37.9, -37.5, -37.1, -36.8, -36.2, -35.8, -35.4, -35.0, -34.6, -34.2, -33.8,
                  -33.4, -33.0, -32.7, -32.0, -31.6, -31.2, -30.8, -30.4, -30.0, -29.6, -29.2, -28.8,
                  -28.4, -28.0, -27.6, -27.2, -26.8, -26.4, -26.0, -25.6, -25.2, -24.8, -24.4, -24.0,
                  -23.6, -23.2, -22.8, -22.4, -22.0, -21.6, -21.2, -20.8, -20.1, -19.7, -19.3, -18.9,
                  -18.5, -18.1, -17.5, -17.1, -16.7, -16.3, -15.9, -15.5, -15.1, -14.7, -14.3, -13.9,
                  -13.5, -13.1, -12.7, -12.3, -11.9, -11.5, -11.1, -10.7, -10.3, -9.9, -9.5, -9.1,
                  -8.7, -8.3, -7.9, -7.5, -7.1, -6.7, -6.3, -5.9, -5.5, -5.1, -4.7, -4.3, -3.9, -3.5,
                  -3.1, -2.7, -2.3, -1.9, -1.5, -1.1, -0.7, -0.3, 0.1, 0.4]
punta_highlight = [(-16.7, 0.936), (-13.2, 0.035), (-9.1, 0.0)]

thresholds = {"a": 0.053, "b": 0.051, "c": 0.047}
arrow_x = [-28.6, -26.7, -25.1, -23.9, -23.3]
arrow_y = [0.43, 0.438, 0.424, 0.39, 0.362]
annot_text = ["single", "cloud"]
annot_y = [0.468, 0.416]
annot_x = -35.3


def frames(top_row, points, gray_row):
    rows = [(t, 1.0, c) for t, c in top_row] + points
    col = pd.DataFrame([(t, f, COLOR_CODE[c]) for t, f, c in rows if c != "K"], columns=["T", "F", "lr"])
    gray = pd.DataFrame([(t, f) for t, f, c in rows if c == "K"] + [(t, 0.0) for t in gray_row],
                        columns=["T", "F"])
    return col, gray


XS = alt.Scale(domain=X_DOM, nice=False, zero=False)
YS = alt.Scale(domain=Y_DOM, nice=False, zero=False)
CS = alt.Scale(domain=[-4.3, -0.7], scheme="plasma", reverse=True)
X_TICK_SIZE = {"condition": {"test": "abs(datum.value % 10) < 0.001", "value": 5.5}, "value": 2.6}
Y_TICK_SIZE = {"condition": {"test": "abs(datum.value * 5 - round(datum.value * 5)) < 0.001", "value": 5.5},
               "value": 2.6}
CB_TICK_SIZE = {"condition": {"test": "abs(log(datum.value) / LN10 - round(log(datum.value) / LN10)) < 0.001",
                              "value": 6}, "value": 3}

# colour bar geometry (relative to panel c plot area)
CB_X, CB_THICK, CB_LEN = 412, 18.6, 372


def tick_layer(xorient, yorient):
    d = pd.DataFrame({"T": [0.0], "F": [0.0]})
    return alt.Chart(d).mark_point(opacity=0).encode(
        x=alt.X("T:Q", scale=XS, axis=alt.Axis(orient=xorient, offset=-H, values=X_TICKS, labels=False,
                                               title=None, domain=False, grid=False, tickSize=X_TICK_SIZE,
                                               tickColor="black", tickWidth=1.1)),
        y=alt.Y("F:Q", scale=YS, axis=alt.Axis(orient=yorient, offset=-W, values=Y_TICKS, labels=False,
                                               title=None, domain=False, grid=False, tickSize=Y_TICK_SIZE,
                                               tickColor="black", tickWidth=1.1)),
    )


def panel(col, gray, title, dx, nlabel, thr, ytitle, legend=None, extras=(), indep_y=False):
    xaxis = alt.Axis(values=X_MAJOR, ticks=False, domain=False, grid=False, labelPadding=6, format="d",
                     title="Cloud top temperature [°C]", titlePadding=3)
    yaxis = alt.Axis(values=Y_MAJOR, ticks=False, domain=False, grid=False, labelPadding=8, format=".1f",
                     title=ytitle, titlePadding=6)
    color = alt.Color("lr:Q", scale=CS, legend=legend)
    pts = alt.Chart(col).mark_circle(size=36, opacity=0.95).encode(
        x=alt.X("T:Q", scale=XS, axis=xaxis), y=alt.Y("F:Q", scale=YS, axis=yaxis), color=color)
    g = alt.Chart(gray).mark_circle(size=36, opacity=0.95, color="#808080").encode(
        x=alt.X("T:Q", scale=XS, axis=None), y=alt.Y("F:Q", scale=YS, axis=None))
    rule = alt.Chart(pd.DataFrame({"F": [thr]})).mark_rule(
        color="black", strokeDash=[4, 2.5], strokeWidth=1.6).encode(y=alt.Y("F:Q", scale=YS, axis=None))
    ntext = alt.Chart(pd.DataFrame({"t": [nlabel]})).mark_text(
        align="right", baseline="middle", fontSize=17.5, font=FONT, color="black").encode(
        text="t:N", x=alt.value(W - 11), y=alt.value(18))
    layers = [pts, g, rule, tick_layer("top", "right"), tick_layer("bottom", "left"), ntext] + list(extras)
    ch = alt.layer(*layers).resolve_axis(x="independent", y="independent")
    if indep_y:
        ch = ch.resolve_scale(y="independent")
    return ch.properties(
        width=W, height=H,
        title=alt.TitleParams(title, anchor="start", frame="group", dx=dx, offset=-3, baseline="alphabetic",
                              fontSize=21.8, fontWeight="bold", font=FONT, color="black"))


a_col, a_gray = frames(leipzig_top_row, leipzig_points, leipzig_gray_row)
b_col, b_gray = frames(limassol_top_row, limassol_points, limassol_gray_row)
c_col, c_gray = frames(punta_top_row, punta_points, punta_gray_row)

# annotation for panel (a)
ann_df = pd.DataFrame({"T": [annot_x, annot_x], "F": annot_y, "t": annot_text})
ann_text = alt.Chart(ann_df).mark_text(align="left", baseline="alphabetic", fontSize=16, fontWeight="bold",
                                       font=FONT, color="black").encode(
    x=alt.X("T:Q", scale=XS, axis=None), y=alt.Y("F:Q", scale=YS, axis=None), text="t:N")
arr_df = pd.DataFrame({"T": arrow_x, "F": arrow_y, "o": list(range(len(arrow_x)))})
arrow = alt.Chart(arr_df).mark_line(color="black", strokeWidth=3, interpolate="basis").encode(
    x=alt.X("T:Q", scale=XS, axis=None), y=alt.Y("F:Q", scale=YS, axis=None), order="o:Q")
head = alt.Chart(pd.DataFrame({"T": [-23.0], "F": [0.35]})).mark_point(
    shape="triangle", filled=True, size=130, angle=152, color="black", opacity=1).encode(
    x=alt.X("T:Q", scale=XS, axis=None), y=alt.Y("F:Q", scale=YS, axis=None))

# highlights for panel (c)
hl = alt.Chart(pd.DataFrame(punta_highlight, columns=["T", "F"])).mark_point(
    shape="square", filled=False, color="red", strokeWidth=2, size=85, opacity=1).encode(
    x=alt.X("T:Q", scale=XS, axis=None), y=alt.Y("F:Q", scale=YS, axis=None))
SUP = "datum.value == -1 ? '⁻¹' : datum.value == -2 ? '⁻²' : datum.value == -3 ? '⁻³' : '⁻⁴'"
legend = alt.Legend(orient="none", legendX=CB_X, legendY=0, direction="vertical", gradientLength=CB_LEN,
                    gradientThickness=CB_THICK, title=None, values=[-4, -3, -2, -1],
                    labelExpr="'10' + (" + SUP + ")",
                    labelFontSize=17, labelFont=FONT, labelColor="black", gradientStrokeColor="#333",
                    gradientStrokeWidth=0.8, labelOffset=4)
# colour-bar tick marks (log axis drawn along the right edge of the bar, ticks pointing inward)
cb_ticks = alt.Chart(pd.DataFrame({"r": [1e-3]})).mark_point(opacity=0).encode(
    x=alt.value(0),
    y=alt.Y("r:Q", scale=alt.Scale(type="log", domain=CB_DOMAIN, range=[CB_LEN, 0], nice=False),
            axis=alt.Axis(orient="left", offset=-(CB_X + CB_THICK), values=CB_TICKS, labels=False, title=None,
                          domain=False, grid=False, tickSize=CB_TICK_SIZE, tickColor="black", tickWidth=1)))
cb_title = alt.Chart(pd.DataFrame({"t": ["Ice-to-liquid content ratio"]})).mark_text(
    angle=270, fontSize=21.5, font=FONT, color="black", align="center", baseline="middle").encode(
    text="t:N", x=alt.value(489), y=alt.value(195))
under = alt.Chart(pd.DataFrame({"t": ["under"]})).mark_point(
    shape="M-1,-1L1,-1L0,1Z", filled=True, size=346, color="#808080", stroke="#444", strokeWidth=0.6,
    opacity=1).encode(x=alt.value(421.3), y=alt.value(381))

YT = "Fraction of profiles containing ice"
pa = panel(a_col, a_gray, "(a) Leipzig", -21, "n=1063", thresholds["a"], YT, extras=[ann_text, arrow, head])
pb = panel(b_col, b_gray, "(b) Limassol", -13, "n=352", thresholds["b"], None)
pc = panel(c_col, c_gray, "(c) Punta Arenas", -21, "n=1267", thresholds["c"], YT, legend=legend,
           extras=[hl, cb_title, under, cb_ticks], indep_y=True)

chart = alt.concat(pa, pb, pc, columns=2, spacing={"row": 105.5, "column": 49}, bounds="flush").resolve_scale(
    color="independent").configure(
    font=FONT, padding={"left": 10, "top": 6, "right": 0, "bottom": 0}, background="white"
).configure_view(stroke="black", strokeWidth=1.2).configure_axis(
    labelFont=FONT, titleFont=FONT, labelFontSize=15.5, titleFontSize=19, labelColor="black",
    titleColor="black", titleFontWeight="normal")

chart.save("out.html", embed_options={"renderer": "svg", "actions": False})
